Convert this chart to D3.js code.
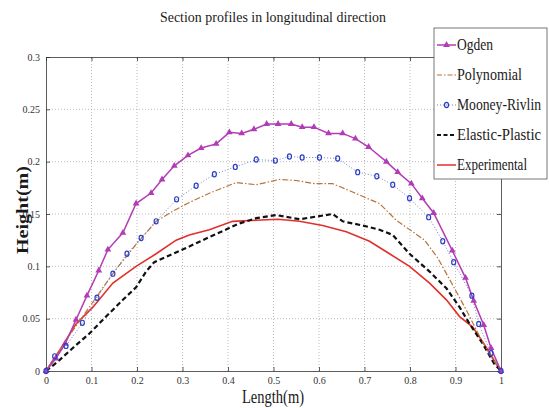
<!DOCTYPE html>
<html>
<head>
<meta charset="utf-8">
<script src="https://cdnjs.cloudflare.com/ajax/libs/d3/7.8.5/d3.min.js"></script>
<style>
  body { margin: 0; background: #fff; }
</style>
</head>
<body>
<div id="chart"></div>
<script>
// chart values
var xTicks = [0, 0.1, 0.2, 0.3, 0.4, 0.5, 0.6, 0.7, 0.8, 0.9, 1];
var yTicks = [0, 0.05, 0.1, 0.15, 0.2, 0.25, 0.3];
var seriesNames = ["Ogden", "Polynomial", "Mooney-Rivlin", "Elastic-Plastic", "Experimental"];

var ogdenX = [0,0.022,0.042,0.066,0.09,0.116,0.136,0.169,0.198,0.231,0.255,0.282,0.312,0.341,0.374,0.403,0.43,0.457,0.485,0.51,0.539,0.563,0.589,0.621,0.652,0.68,0.709,0.748,0.773,0.803,0.827,0.852,0.893,0.922,0.94,0.962,0.978,1];
var ogdenY = [0,0.012,0.026,0.049,0.072,0.096,0.116,0.132,0.16,0.17,0.183,0.196,0.206,0.213,0.217,0.228,0.227,0.231,0.236,0.236,0.236,0.233,0.233,0.227,0.227,0.222,0.214,0.2,0.19,0.179,0.165,0.151,0.115,0.089,0.067,0.044,0.022,0];

var polyX = [0,0.05,0.1,0.15,0.2,0.242,0.28,0.315,0.36,0.418,0.462,0.513,0.55,0.59,0.63,0.674,0.711,0.733,0.77,0.832,0.861,0.894,0.924,0.953,0.982,1];
var polyY = [0,0.033,0.064,0.095,0.122,0.143,0.153,0.161,0.17,0.18,0.178,0.183,0.182,0.179,0.179,0.171,0.164,0.16,0.144,0.125,0.108,0.082,0.058,0.033,0.011,0];

var mooneyX = [0,0.019,0.044,0.08,0.112,0.147,0.178,0.209,0.242,0.287,0.33,0.37,0.416,0.462,0.504,0.535,0.563,0.601,0.641,0.685,0.727,0.762,0.799,0.841,0.872,0.896,0.936,0.951,0.978,1];
var mooneyY = [0,0.014,0.024,0.046,0.07,0.093,0.112,0.127,0.143,0.164,0.177,0.188,0.195,0.202,0.201,0.205,0.204,0.204,0.203,0.19,0.186,0.178,0.165,0.147,0.124,0.104,0.072,0.045,0.017,0];

var elasticX = [0,0.026,0.059,0.096,0.132,0.169,0.198,0.22,0.238,0.279,0.315,0.359,0.425,0.462,0.506,0.557,0.63,0.652,0.696,0.733,0.762,0.799,0.843,0.88,0.909,0.931,0.96,0.985,1];
var elasticY = [0,0.009,0.022,0.036,0.052,0.068,0.08,0.095,0.104,0.112,0.119,0.128,0.141,0.146,0.149,0.145,0.15,0.143,0.139,0.135,0.13,0.112,0.095,0.079,0.061,0.045,0.026,0.007,0];

var expX = [0,0.03,0.066,0.103,0.147,0.198,0.242,0.286,0.315,0.359,0.41,0.462,0.51,0.557,0.608,0.66,0.711,0.755,0.799,0.843,0.88,0.909,0.938,0.967,0.989,1];
var expY = [0,0.02,0.045,0.061,0.084,0.1,0.112,0.125,0.13,0.135,0.143,0.144,0.145,0.143,0.139,0.133,0.124,0.112,0.1,0.084,0.068,0.052,0.042,0.023,0.007,0];

var W = 549, H = 408;
var margin = {left: 46, right: 48, top: 57, bottom: 37};
var plotW = W - margin.left - margin.right;
var plotH = H - margin.top - margin.bottom;
var serif = "'Liberation Serif', 'Times New Roman', serif";

var svg = d3.select("#chart").append("svg")
  .attr("width", W)
  .attr("height", H);

var x = d3.scaleLinear().domain([0, 1]).range([margin.left, margin.left + plotW]);
var y = d3.scaleLinear().domain([0, 0.3]).range([margin.top + plotH, margin.top]);

// grid
var grid = svg.append("g").attr("class", "grid");
grid.selectAll(".gx").data(xTicks.slice(1, -1)).enter().append("line")
  .attr("x1", function(d) { return x(d); }).attr("x2", function(d) { return x(d); })
  .attr("y1", y(0)).attr("y2", y(0.3))
  .attr("stroke", "#aaa").attr("stroke-width", 0.8).attr("stroke-dasharray", "1,2");
grid.selectAll(".gy").data(yTicks.slice(1, -1)).enter().append("line")
  .attr("y1", function(d) { return y(d); }).attr("y2", function(d) { return y(d); })
  .attr("x1", x(0)).attr("x2", x(1))
  .attr("stroke", "#aaa").attr("stroke-width", 0.8).attr("stroke-dasharray", "1,2");

// axes, ticks pointing inwards like matlab
svg.append("g").attr("transform", "translate(0," + y(0) + ")")
  .call(d3.axisBottom(x).tickValues(xTicks).tickSize(-4).tickPadding(6)
    .tickFormat(function(d) { return String(+d.toFixed(1)); }));
svg.append("g").attr("transform", "translate(" + x(0) + ",0)")
  .call(d3.axisLeft(y).tickValues(yTicks).tickSize(-4).tickPadding(6)
    .tickFormat(function(d) { return String(+d.toFixed(2)); }));
svg.append("g").attr("transform", "translate(0," + y(0.3) + ")")
  .call(d3.axisTop(x).tickValues(xTicks).tickSize(-4).tickFormat(""));
svg.append("g").attr("transform", "translate(" + x(1) + ",0)")
  .call(d3.axisRight(y).tickValues(yTicks).tickSize(-4).tickFormat(""));

svg.selectAll(".domain").attr("stroke", "#333").attr("stroke-width", 0.8);
svg.selectAll(".tick line").attr("stroke", "#333").attr("stroke-width", 0.8);
svg.selectAll(".tick text")
  .attr("font-family", serif)
  .attr("font-size", 10)
  .attr("fill", "#333");

// lines
var line = d3.line().x(function(d) { return x(d[0]); }).y(function(d) { return y(d[1]); });
function pts(xs, ys) { return xs.map(function(v, i) { return [v, ys[i]]; }); }

var cOgden = "#b23cb6", cPoly = "#b8733a", cMooney = "#2b3fc4", cElastic = "#111", cExp = "#e0302c";

svg.append("path").datum(pts(expX, expY)).attr("d", line)
  .attr("fill", "none").attr("stroke", cExp).attr("stroke-width", 1.6);
svg.append("path").datum(pts(elasticX, elasticY)).attr("d", line)
  .attr("fill", "none").attr("stroke", cElastic).attr("stroke-width", 2.2).attr("stroke-dasharray", "5,3");
svg.append("path").datum(pts(polyX, polyY)).attr("d", line)
  .attr("fill", "none").attr("stroke", cPoly).attr("stroke-width", 1.2).attr("stroke-dasharray", "6,2,1.5,2");
svg.append("path").datum(pts(mooneyX, mooneyY)).attr("d", line)
  .attr("fill", "none").attr("stroke", "#6f7fc8").attr("stroke-width", 1).attr("stroke-dasharray", "1,2");
svg.append("path").datum(pts(ogdenX, ogdenY)).attr("d", line)
  .attr("fill", "none").attr("stroke", cOgden).attr("stroke-width", 1.5);

var tri = d3.symbol().type(d3.symbolTriangle).size(20);
svg.selectAll(".ogd").data(pts(ogdenX, ogdenY)).enter().append("path")
  .attr("d", tri)
  .attr("transform", function(d) { return "translate(" + x(d[0]) + "," + y(d[1]) + ")"; })
  .attr("fill", cOgden);
svg.selectAll(".moo").data(pts(mooneyX, mooneyY)).enter().append("ellipse")
  .attr("cx", function(d) { return x(d[0]); }).attr("cy", function(d) { return y(d[1]); })
  .attr("rx", 2).attr("ry", 2.6)
  .attr("fill", "none").attr("stroke", cMooney).attr("stroke-width", 1.2);

// title and axis labels
svg.append("text").attr("x", 273).attr("y", 22).attr("text-anchor", "middle")
  .attr("textLength", 226).attr("lengthAdjust", "spacingAndGlyphs")
  .attr("font-size", 15).text("Section profiles in longitudinal direction");
svg.append("text").attr("x", 273).attr("y", 403).attr("text-anchor", "middle")
  .attr("textLength", 62).attr("lengthAdjust", "spacingAndGlyphs")
  .attr("font-size", 18).text("Length(m)");
svg.append("text").attr("transform", "translate(28,210) rotate(-90)").attr("text-anchor", "middle")
  .attr("textLength", 88).attr("lengthAdjust", "spacingAndGlyphs")
  .attr("font-size", 16).attr("font-weight", "bold").text("Height(m)");

// legend
var lg = svg.append("g").attr("transform", "translate(434,28)");
lg.append("rect").attr("x", 0).attr("y", 0).attr("width", 113).attr("height", 151)
  .attr("fill", "#fff").attr("stroke", "#555").attr("stroke-width", 0.8);
var lgY = d3.scalePoint().domain(seriesNames).range([17, 137]);
var styles = [
  {c: cOgden, w: 1.5, dash: null},
  {c: cPoly, w: 1.2, dash: "5,2,1.5,2"},
  {c: "#6f7fc8", w: 1, dash: "1,2"},
  {c: cElastic, w: 2, dash: "4,2.5"},
  {c: cExp, w: 1.5, dash: null}
];
seriesNames.forEach(function(name, i) {
  var yy = lgY(name);
  lg.append("line").attr("x1", 3).attr("x2", 22).attr("y1", yy).attr("y2", yy)
    .attr("stroke", styles[i].c).attr("stroke-width", styles[i].w)
    .attr("stroke-dasharray", styles[i].dash);
  lg.append("text").attr("x", 23).attr("y", yy + 5)
    .attr("font-size", 16)
    .attr("textLength", [36, 65, 84, 84, 70][i]).attr("lengthAdjust", "spacingAndGlyphs")
    .text(name);
});
lg.append("path").attr("d", tri).attr("transform", "translate(12.5," + lgY("Ogden") + ")").attr("fill", cOgden);
lg.append("ellipse").attr("cx", 12.5).attr("cy", lgY("Mooney-Rivlin")).attr("rx", 2).attr("ry", 2.6)
  .attr("fill", "none").attr("stroke", cMooney).attr("stroke-width", 1.2);

svg.selectAll("text").attr("font-family", serif).style("font-family", serif);
svg.selectAll("text:not(.tick text)").attr("fill", "#1a1a1a");
</script>
</body>
</html>
